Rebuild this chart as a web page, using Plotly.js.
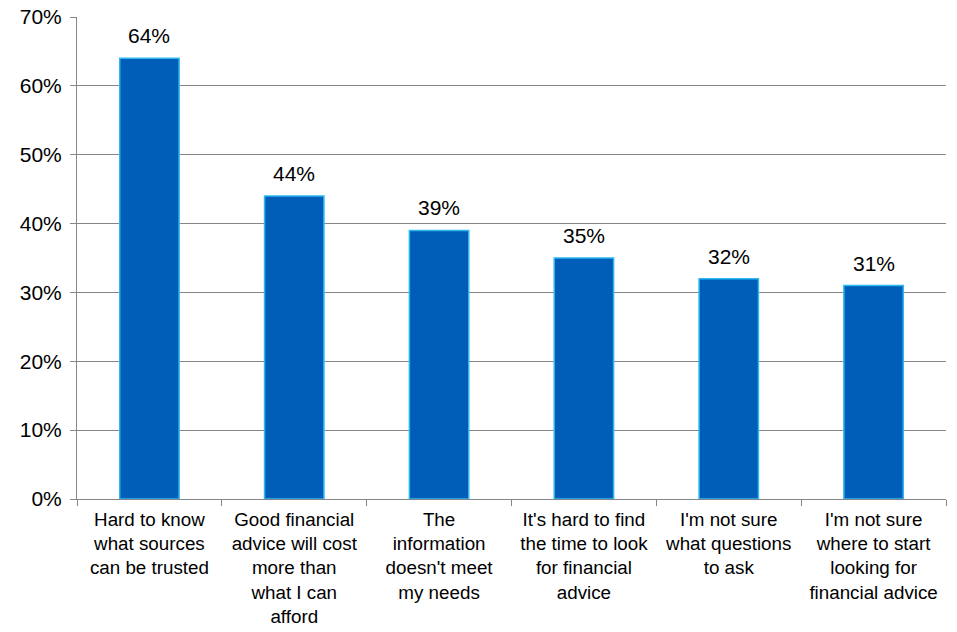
<!DOCTYPE html>
<html>
<head>
<meta charset="utf-8">
<script src="https://cdn.plot.ly/plotly-3.0.1.min.js"></script>
<style>html,body{margin:0;padding:0;background:#fff;}#chart{width:957px;height:632px;}</style>
</head>
<body>
<div id="chart"></div>
<script>
const categories = [
  "Hard to know<br>what sources<br>can be trusted",
  "Good financial<br>advice will cost<br>more than<br>what I can<br>afford",
  "The<br>information<br>doesn't meet<br>my needs",
  "It's hard to find<br>the time to look<br>for financial<br>advice",
  "I'm not sure<br>what questions<br>to ask",
  "I'm not sure<br>where to start<br>looking for<br>financial advice"
];
const values = [0.64, 0.44, 0.39, 0.35, 0.32, 0.31];
const labels = values.map(v => Math.round(v * 100) + "%");

const font = "Liberation Sans, Arial, sans-serif";

const annotations = categories.map((c, i) => ({
  x: c, y: values[i], xref: "x", yref: "y",
  text: labels[i], showarrow: false,
  xanchor: "center", yanchor: "bottom", yshift: 9,
  font: {family: font, size: 21, color: "#000"}
}));

Plotly.newPlot("chart", [{
  type: "bar",
  x: categories,
  y: values,
  width: 0.41,
  marker: {color: "#005DB8", line: {color: "#2DB8EE", width: 1.5}},
  hoverinfo: "none"
}], {
  width: 957, height: 632,
  margin: {l: 77, r: 11, t: 17, b: 133},
  paper_bgcolor: "#fff", plot_bgcolor: "#fff",
  showlegend: false,
  annotations: annotations,
  xaxis: {
    type: "category",
    tickson: "boundaries",
    ticks: "outside", ticklen: 6, tickcolor: "#868686", tickwidth: 1,
    showline: true, linecolor: "#868686", linewidth: 1,
    showgrid: false,
    tickangle: 0,
    ticklabelstandoff: 3,
    tickfont: {family: font, size: 18.8, color: "#000"},
    automargin: false
  },
  yaxis: {
    range: [0, 0.7], dtick: 0.1, tickformat: ".0%",
    ticks: "outside", ticklen: 6, tickcolor: "#868686", tickwidth: 1,
    showline: true, linecolor: "#868686", linewidth: 1,
    showgrid: true, gridcolor: "#868686", gridwidth: 1,
    zeroline: false,
    ticklabelstandoff: 4,
    tickfont: {family: font, size: 21, color: "#000"},
    automargin: false
  }
}, {staticPlot: true, displayModeBar: false});
</script>
</body>
</html>
